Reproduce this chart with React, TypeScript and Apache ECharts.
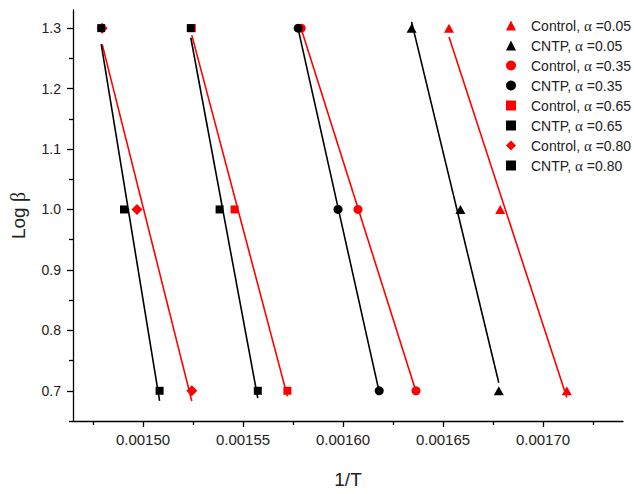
import React, { useEffect, useRef } from 'react';
import * as echarts from 'echarts';

// Log(heating rate) levels
const logBeta = [1.3, 1.0, 0.7];

// 1/T values read for each conversion level (alpha)
const controlX005 = [0.001653, 0.0016786, 0.0017119];
const cntpX005 = [0.0016343, 0.0016587, 0.0016779];
const controlX035 = [0.0015791, 0.0016075, 0.0016365];
const cntpX035 = [0.0015776, 0.0015975, 0.0016181];
const controlX065 = [0.0015244, 0.0015458, 0.0015722];
const cntpX065 = [0.0015239, 0.0015383, 0.0015574];
const controlX080 = [0.0014796, 0.001497, 0.0015244];
const cntpX080 = [0.0014791, 0.0014905, 0.0015083];

const seriesNames = [
  'Control, α =0.05',
  'CNTP, α =0.05',
  'Control, α =0.35',
  'CNTP, α =0.35',
  'Control, α =0.65',
  'CNTP, α =0.65',
  'Control, α =0.80',
  'CNTP, α =0.80',
];

const xTickLabels = [0.0015, 0.00155, 0.0016, 0.00165, 0.0017];
const xMinorTicks = [0.001475, 0.001525, 0.001575, 0.001625, 0.001675, 0.001725];
const yTickLabels = [0.7, 0.8, 0.9, 1.0, 1.1, 1.2, 1.3];
const yMinorTicks = [0.65, 0.75, 0.85, 0.95, 1.05, 1.15, 1.25];

const RED = '#ff0000';
const BLACK = '#000000';
const FONT = 'Liberation Sans, Arial, sans-serif';

function fitLine(xs: number[], ys: number[]): number[][] {
  const n = xs.length;
  const mx = xs.reduce((a, b) => a + b, 0) / n;
  const my = ys.reduce((a, b) => a + b, 0) / n;
  let sxx = 0;
  let sxy = 0;
  for (let i = 0; i < n; i++) {
    sxx += (xs[i] - mx) * (xs[i] - mx);
    sxy += (xs[i] - mx) * (ys[i] - my);
  }
  const b = sxy / sxx;
  const a = my - b * mx;
  const x0 = Math.min(...xs);
  const x1 = Math.max(...xs);
  return [
    [x0, a + b * x0],
    [x1, a + b * x1],
  ];
}

const groups = [
  { name: seriesNames[0], xs: controlX005, color: RED, symbol: 'triangle', size: [10, 9] },
  { name: seriesNames[1], xs: cntpX005, color: BLACK, symbol: 'triangle', size: [10, 9] },
  { name: seriesNames[2], xs: controlX035, color: RED, symbol: 'circle', size: 9 },
  { name: seriesNames[3], xs: cntpX035, color: BLACK, symbol: 'circle', size: 9 },
  { name: seriesNames[4], xs: controlX065, color: RED, symbol: 'rect', size: 8 },
  { name: seriesNames[5], xs: cntpX065, color: BLACK, symbol: 'rect', size: 8 },
  { name: seriesNames[6], xs: controlX080, color: RED, symbol: 'diamond', size: [11, 11] },
  { name: seriesNames[7], xs: cntpX080, color: BLACK, symbol: 'rect', size: 8 },
];

export default function App() {
  const ref = useRef<HTMLDivElement>(null);

  useEffect(() => {
    if (!ref.current) return;
    const chart = echarts.init(ref.current, undefined, { renderer: 'svg' });

    const lineSeries = groups.map((g, i) => ({
      type: 'line',
      id: 'fit' + i,
      data: fitLine(g.xs, logBeta),
      showSymbol: false,
      symbol: 'none',
      silent: true,
      lineStyle: { color: g.color, width: 1.6 },
      z: 2,
    }));

    const order = [0, 2, 4, 6, 1, 3, 5, 7];
    const scatterSeries = order.map((i) => {
      const g = groups[i];
      return {
        type: 'scatter',
        name: g.name,
        data: g.xs.map((x, k) => [x, logBeta[k]]),
        symbol: g.symbol,
        symbolSize: g.size,
        itemStyle: { color: g.color, opacity: 1 },
        z: 3,
      };
    });

    const axisLineStyle = { color: '#000', width: 1.3 };

    chart.setOption({
      animation: false,
      backgroundColor: '#ffffff',
      textStyle: { fontFamily: FONT },
      grid: { left: 71, right: 11, top: 10, bottom: 62, containLabel: false },
      legend: {
        data: seriesNames,
        orient: 'vertical',
        left: 501,
        top: 13,
        itemWidth: 10,
        itemHeight: 10,
        itemGap: 5,
        selectedMode: false,
        formatter: (name: string) => name.replace('α', '{g|α}'),
        textStyle: {
          fontFamily: FONT,
          fontSize: 14,
          color: '#222',
          lineHeight: 14,
          padding: [0, 0, 0, 10],
          rich: {
            g: { fontFamily: 'Liberation Serif, serif', fontSize: 15, lineHeight: 14, color: '#222' },
          },
        },
      },
      xAxis: [
        {
          type: 'value',
          position: 'bottom',
          min: 0.001465,
          max: 0.00174,
          name: '1/T',
          nameLocation: 'middle',
          nameGap: 49,
          nameTextStyle: { fontSize: 19, color: '#222', fontFamily: FONT },
          axisLine: { show: true, onZero: false, lineStyle: axisLineStyle },
          axisTick: { show: true, customValues: xTickLabels, length: 6, inside: false, lineStyle: axisLineStyle },
          axisLabel: {
            customValues: xTickLabels,
            formatter: (v: number) => v.toFixed(5),
            fontSize: 15,
            color: '#222',
            margin: 11,
            fontFamily: FONT,
          },
          splitLine: { show: false },
        },
        {
          type: 'value',
          position: 'bottom',
          min: 0.001465,
          max: 0.00174,
          axisLine: { show: false, onZero: false },
          axisTick: { show: true, customValues: xMinorTicks, length: 4, inside: false, lineStyle: axisLineStyle },
          axisLabel: { show: false },
          splitLine: { show: false },
        },
      ],
      yAxis: [
        {
          type: 'value',
          position: 'left',
          min: 0.65,
          max: 1.33,
          name: 'Log {g|β}',
          nameLocation: 'middle',
          nameGap: 45,
          nameRotate: 90,
          nameTextStyle: {
            fontSize: 19,
            color: '#222',
            fontFamily: FONT,
            rich: { g: { fontFamily: 'Liberation Serif, serif', fontSize: 20, color: '#222' } },
          },
          axisLine: { show: true, onZero: false, lineStyle: axisLineStyle },
          axisTick: { show: true, customValues: yTickLabels, length: 6, inside: false, lineStyle: axisLineStyle },
          axisLabel: {
            customValues: yTickLabels,
            formatter: (v: number) => v.toFixed(1),
            fontSize: 14,
            color: '#222',
            margin: 12,
            fontFamily: FONT,
          },
          splitLine: { show: false },
        },
        {
          type: 'value',
          position: 'left',
          min: 0.65,
          max: 1.33,
          axisLine: { show: false, onZero: false },
          axisTick: { show: true, customValues: yMinorTicks, length: 4, inside: false, lineStyle: axisLineStyle },
          axisLabel: { show: false },
          splitLine: { show: false },
        },
      ],
      series: [...lineSeries, ...scatterSeries],
    });

    return () => {
      chart.dispose();
    };
  }, []);

  return (
    <div
      ref={ref}
      style={{ position: 'fixed', left: 0, top: 0, width: 634, height: 494, background: '#fff' }}
    />
  );
}
